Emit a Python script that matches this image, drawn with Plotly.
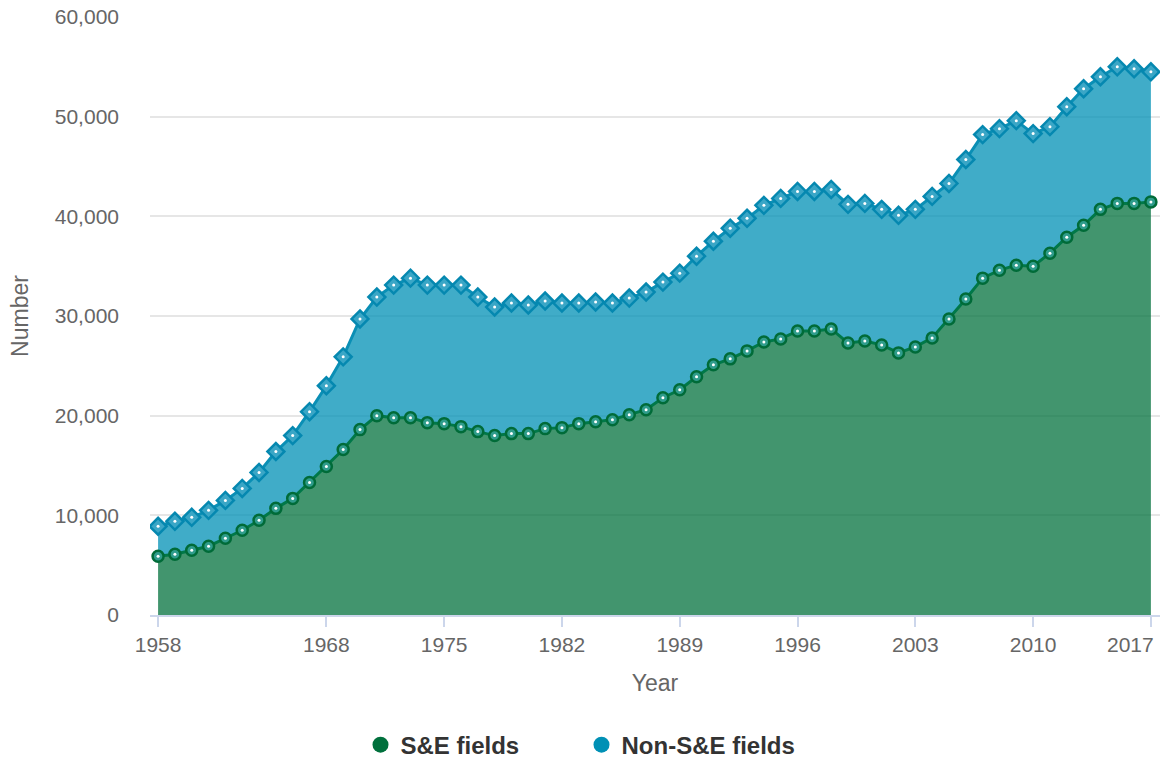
import plotly.graph_objects as go

years = list(range(1958, 2018))

se_fields = [5.9, 6.1, 6.5, 6.9, 7.7, 8.5, 9.5, 10.7, 11.7, 13.3,
             14.9, 16.6, 18.6, 20.0, 19.8, 19.8, 19.3, 19.2, 18.9, 18.4,
             18.0, 18.2, 18.2, 18.7, 18.8, 19.2, 19.4, 19.6, 20.1, 20.6,
             21.8, 22.6, 23.9, 25.1, 25.7, 26.5, 27.4, 27.7, 28.5, 28.5,
             28.7, 27.3, 27.5, 27.1, 26.3, 26.9, 27.8, 29.7, 31.7, 33.8,
             34.6, 35.1, 35.0, 36.3, 37.9, 39.1, 40.7, 41.3, 41.3, 41.45]
total_fields = [8.9, 9.4, 9.8, 10.5, 11.5, 12.7, 14.3, 16.4, 18.0, 20.4,
                23.0, 25.9, 29.7, 31.9, 33.1, 33.8, 33.1, 33.1, 33.1, 31.9,
                30.9, 31.3, 31.1, 31.5, 31.3, 31.3, 31.4, 31.3, 31.8, 32.4,
                33.4, 34.3, 36.0, 37.5, 38.8, 39.8, 41.1, 41.8, 42.5, 42.5,
                42.7, 41.2, 41.3, 40.7, 40.1, 40.7, 42.0, 43.3, 45.7, 48.2,
                48.8, 49.6, 48.3, 49.0, 51.0, 52.8, 54.0, 55.0, 54.8, 54.5]
se_values = [round(v * 1000) for v in se_fields]
non_se_values = [round((t - s) * 1000) for t, s in zip(total_fields, se_fields)]
stack_top = [a + b for a, b in zip(se_values, non_se_values)]

series_names = ["S&E fields", "Non-S&E fields"]
x_tick_years = [1958, 1968, 1975, 1982, 1989, 1996, 2003, 2010, 2017]
x_tick_labels = ["1958", "1968", "1975", "1982", "1989", "1996", "2003", "2010", "2017"]
y_ticks = [0, 10000, 20000, 30000, 40000, 50000, 60000]

GREEN = "#00703c"
BLUE = "#0090b5"
FONT = "Liberation Sans, Arial, sans-serif"

fig = go.Figure()

fig.add_trace(go.Scatter(
    x=years, y=se_values, name=series_names[0], stackgroup="one",
    mode="lines+markers", showlegend=False,
    line=dict(color="#007848", width=3),
    fillcolor="rgba(0,112,60,0.74)",
    marker=dict(symbol="circle", size=11, color="#2f9c8c",
                line=dict(color="#006b38", width=2.5)),
    hovertemplate="%{x}: %{y:,}<extra>S&E fields</extra>",
))
fig.add_trace(go.Scatter(
    x=years, y=non_se_values, name=series_names[1], stackgroup="one",
    mode="lines+markers", showlegend=False,
    line=dict(color="#0a8fb5", width=3),
    fillcolor="rgba(0,144,181,0.75)",
    marker=dict(symbol="diamond", size=13, color="#3aa6c6",
                line=dict(color="#0588b0", width=2.5)),
    hovertemplate="%{x}: %{y:,}<extra>Non-S&E fields</extra>",
))
# white centre dots of the markers
fig.add_trace(go.Scatter(
    x=years, y=se_values, mode="markers", showlegend=False, hoverinfo="skip",
    marker=dict(symbol="circle", size=3, color="white"),
))
fig.add_trace(go.Scatter(
    x=years, y=stack_top, mode="markers", showlegend=False, hoverinfo="skip",
    marker=dict(symbol="circle", size=3, color="white"),
))
# legend entries
for name, col in zip(series_names, [GREEN, BLUE]):
    fig.add_trace(go.Scatter(
        x=[None], y=[None], mode="markers", name=name,
        marker=dict(symbol="circle", size=16, color=col),
    ))

# last tick label is pulled inside the chart edge (as in the reference)
tick_text = x_tick_labels[:-1] + [""]

fig.update_layout(
    width=1163, height=760,
    margin=dict(l=150, r=3, t=17, b=145, autoexpand=False),
    paper_bgcolor="white", plot_bgcolor="white",
    font=dict(family=FONT, color="#666666", size=21),
    showlegend=True,
    legend=dict(orientation="h", xref="container", yref="container",
                x=0.5, xanchor="center", y=0.0197, yanchor="middle",
                font=dict(size=24, color="#333333", family=FONT, weight="bold"),
                itemsizing="trace", itemwidth=30, entrywidth=176,
                traceorder="normal"),
    xaxis=dict(
        range=[1957.52, 2017.54], tickmode="array", tickvals=x_tick_years,
        ticktext=tick_text,
        ticks="outside", ticklen=10, tickwidth=2, tickcolor="#ccd6eb",
        showline=True, linecolor="#ccd6eb", linewidth=2,
        showgrid=False, zeroline=False, automargin=False,
        tickfont=dict(size=21, color="#666666"),
        title=dict(text="Year", font=dict(size=23, color="#666666"), standoff=20),
    ),
    yaxis=dict(
        range=[0, 60000], tickmode="array", tickvals=y_ticks, tickformat=",",
        showgrid=True, gridcolor="#e6e6e6", gridwidth=2,
        zeroline=False, showline=False, ticks="", automargin=False,
        ticklabelstandoff=30,
        tickfont=dict(size=21, color="#666666"),
        title=dict(text="Number", font=dict(size=23, color="#666666"), standoff=19),
    ),
    annotations=[dict(
        x=x_tick_years[-1], xref="x", y=0, yref="paper",
        text=x_tick_labels[-1], showarrow=False,
        xanchor="right", yanchor="middle", xshift=5, yshift=-29,
        font=dict(size=21, color="#666666", family=FONT),
    )],
    hovermode="closest",
)

fig.write_html("out.html", config={"displayModeBar": False},
               post_script="document.body.style.margin='0';document.body.style.overflow='hidden';")
